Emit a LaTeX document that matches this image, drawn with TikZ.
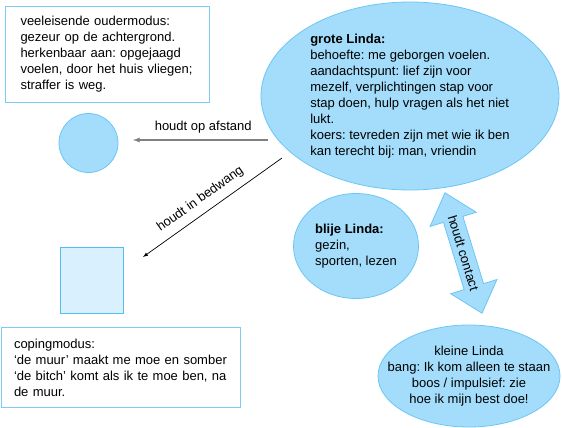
\documentclass[tikz,border=0pt]{standalone}
\usepackage{fontspec}
\setmainfont{Liberation Sans}
\usetikzlibrary{shapes.geometric,shapes.arrows}
\definecolor{lindablue}{HTML}{A3DDFB}
\definecolor{lindaedge}{HTML}{6CC6F5}
\definecolor{muurblue}{HTML}{D9F1FE}
\definecolor{muuredge}{HTML}{55BBF5}
\definecolor{boxedge}{HTML}{7DCCF5}
\frenchspacing

\begin{document}
\begin{tikzpicture}[x=1pt,y=1pt,>=latex,
    every node/.style={font=\fontsize{13}{16}\selectfont},
    modebox/.style={draw=boxedge,line width=1pt,align=left,anchor=north west},
    blob/.style={draw=lindaedge,fill=lindablue,line width=.8pt,inner sep=0pt}]
        \useasboundingbox (0,0) rectangle (562,-428);
        % modi links
        \node[modebox,text width=174pt,inner xsep=15pt,minimum height=96pt] (ouder) at (5,-6)
          {veeleisende oudermodus:\\gezeur op de achtergrond.\\herkenbaar aan: opgejaagd\\voelen, door het huis vliegen;\\straffer is weg.};
        \node[blob,circle,minimum size=59pt] (afstand) at (88.5,-143) {};
        \node[draw=muuredge,fill=muurblue,line width=1pt,minimum width=63pt,minimum height=66pt] (muur) at (91.5,-280) {};
        \node[modebox,text width=213pt,inner xsep=13pt,minimum height=80pt] (coping) at (0.5,-327)
          {copingmodus:\\‘de muur’ maakt me moe en somber\\‘de bitch’ komt als ik te moe ben, na\\de muur.};
        % Linda
        \node[blob,ellipse,minimum width=298pt,minimum height=188pt,align=left] (grote) at (410,-96)
          {\textbf{grote Linda:}\\behoefte: me geborgen voelen.\\aandachtspunt: lief zijn voor\\mezelf, verplichtingen stap voor\\stap doen, hulp vragen als het niet\\lukt.\\koers: tevreden zijn met wie ik ben\\kan terecht bij: man, vriendin};
        \node[blob,ellipse,minimum width=125pt,minimum height=105pt,align=left] (blije) at (356,-246)
          {\textbf{blije Linda:}\\gezin,\\sporten, lezen};
        \node[blob,ellipse,minimum width=182pt,minimum height=102pt,inner xsep=-40pt,align=center] (kleine) at (469,-376)
          {kleine Linda\\bang: Ik kom alleen te staan\\boos / impulsief: zie\\hoe ik mijn best doe!};
        \node[blob,double arrow,double arrow head extend=14pt,double arrow tip angle=82,
              minimum height=126pt,minimum width=48pt,inner ysep=5pt,rotate=-72.9] (contact) at (463.5,-253)
          {houdt contact};
        % pijlen
        \coordinate (afstandstart) at (268,-140);
        \coordinate (afstandeind) at (133,-140);
        \coordinate (bedwangstart) at (282,-158);
        \coordinate (bedwangeind) at (143,-257);
        \draw[->,gray,line width=1.3pt] (afstandstart) -- node[above=3pt,pos=.48,black] {houdt op afstand} (afstandeind);
        \draw[->,line width=.7pt] (bedwangstart) -- node[sloped,above=4pt,pos=.53] {houdt in bedwang} (bedwangeind);
\end{tikzpicture}
\end{document}
